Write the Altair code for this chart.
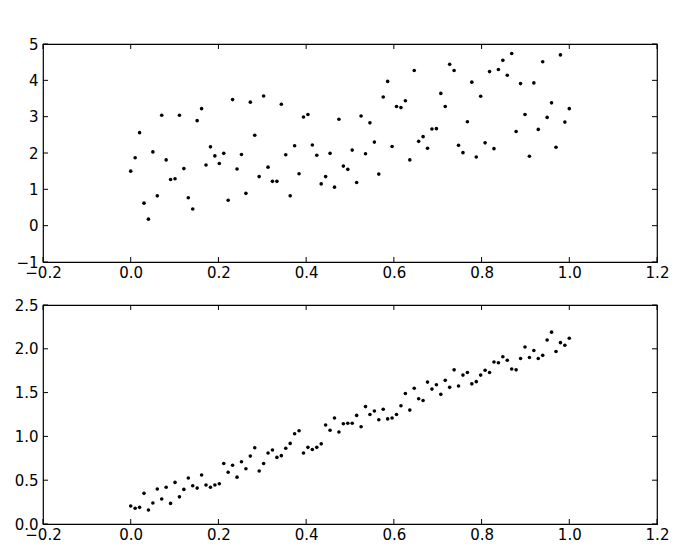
import altair as alt
import pandas as pd
import numpy as np

# x positions: 100 evenly spaced samples on [0, 1]
n_points = 100
x_vals = [i / 99 for i in range(n_points)]

top_y = [1.50, 1.87, 2.56, 0.62, 0.18, 2.03, 0.82, 3.04, 1.81, 1.27,
         1.29, 3.04, 1.57, 0.77, 0.46, 2.89, 3.22, 1.67, 2.17, 1.92,
         1.71, 1.99, 0.70, 3.47, 1.56, 1.96, 0.89, 3.40, 2.49, 1.35,
         3.57, 1.61, 1.22, 1.22, 3.34, 1.95, 0.82, 2.20, 1.43, 2.99,
         3.06, 2.22, 1.94, 1.15, 1.35, 1.99, 1.06, 2.93, 1.64, 1.55,
         2.08, 1.19, 3.02, 1.98, 2.83, 2.30, 1.42, 3.54, 3.97, 2.18,
         3.28, 3.25, 3.44, 1.81, 4.27, 2.32, 2.45, 2.13, 2.66, 2.67,
         3.64, 3.28, 4.44, 4.27, 2.21, 2.01, 2.86, 3.95, 1.89, 3.56,
         2.28, 4.24, 2.12, 4.30, 4.55, 4.14, 4.74, 2.59, 3.91, 3.06,
         1.91, 3.93, 2.65, 4.51, 2.98, 3.38, 2.16, 4.70, 2.85, 3.22]

bottom_y = [0.205, 0.18, 0.19, 0.35, 0.16, 0.24, 0.40, 0.285, 0.42, 0.235,
            0.475, 0.31, 0.395, 0.525, 0.437, 0.41, 0.56, 0.445, 0.42, 0.445,
            0.46, 0.69, 0.59, 0.67, 0.535, 0.71, 0.63, 0.775, 0.87, 0.605,
            0.69, 0.81, 0.845, 0.76, 0.78, 0.865, 0.92, 1.03, 1.065, 0.81,
            0.875, 0.85, 0.875, 0.915, 1.13, 1.07, 1.21, 1.05, 1.145, 1.15,
            1.15, 1.24, 1.11, 1.34, 1.25, 1.29, 1.19, 1.31, 1.20, 1.21,
            1.25, 1.35, 1.49, 1.30, 1.55, 1.43, 1.41, 1.62, 1.54, 1.59,
            1.48, 1.64, 1.56, 1.76, 1.575, 1.70, 1.73, 1.60, 1.625, 1.70,
            1.755, 1.73, 1.85, 1.84, 1.91, 1.87, 1.77, 1.76, 1.89, 2.02,
            1.90, 1.98, 1.89, 1.925, 2.10, 2.19, 1.97, 2.07, 2.04, 2.12]

x_ticks = [-0.2, 0.0, 0.2, 0.4, 0.6, 0.8, 1.0, 1.2]
top_y_ticks = [-1, 0, 1, 2, 3, 4, 5]
bottom_y_ticks = [0.0, 0.5, 1.0, 1.5, 2.0, 2.5]

W, H_TOP, H_BOT = 614, 218, 219
FONT = "DejaVu Sans"
TICK = 5


def panel(yvals, ydom, yticks, yfmt, h):
    df = pd.DataFrame({"x": x_vals, "y": yvals})
    xscale = alt.Scale(domain=[-0.2, 1.2], nice=False, zero=False)
    yscale = alt.Scale(domain=ydom, nice=False, zero=False)
    xaxis = alt.Axis(values=x_ticks, format=".1f", ticks=False, domain=False,
                     grid=False, labelPadding=3, labelFlush=False,
                     labelOverlap=False, title=None, labelFont=FONT,
                     labelFontSize=15, labelColor="black")
    yaxis = alt.Axis(values=yticks, format=yfmt, ticks=False, domain=False,
                     grid=False, labelPadding=5, labelFlush=False,
                     labelOverlap=False, title=None, labelFont=FONT,
                     labelFontSize=15, labelColor="black")
    pts = alt.Chart(df).mark_circle(size=13, color="black", opacity=1).encode(
        x=alt.X("x:Q", scale=xscale, axis=xaxis),
        y=alt.Y("y:Q", scale=yscale, axis=yaxis),
    )
    xt = pd.DataFrame({"t": x_ticks})
    yt = pd.DataFrame({"t": yticks})
    xb = alt.Chart(xt).mark_rule(color="black", strokeWidth=1).encode(
        x=alt.X("t:Q", scale=xscale, axis=xaxis), y=alt.value(h), y2=alt.value(h - TICK))
    xtop = alt.Chart(xt).mark_rule(color="black", strokeWidth=1).encode(
        x=alt.X("t:Q", scale=xscale, axis=xaxis), y=alt.value(0), y2=alt.value(TICK))
    yl = alt.Chart(yt).mark_rule(color="black", strokeWidth=1).encode(
        y=alt.Y("t:Q", scale=yscale, axis=yaxis), x=alt.value(0), x2=alt.value(TICK))
    yr = alt.Chart(yt).mark_rule(color="black", strokeWidth=1).encode(
        y=alt.Y("t:Q", scale=yscale, axis=yaxis), x=alt.value(W - TICK), x2=alt.value(W))
    return alt.layer(pts, xb, xtop, yl, yr).properties(width=W, height=h)


top = panel(top_y, [-1, 5], top_y_ticks, "d", H_TOP)
bottom = panel(bottom_y, [0, 2.5], bottom_y_ticks, ".1f", H_BOT)

chart = alt.vconcat(top, bottom, spacing=43, bounds="flush").properties(
    padding={"left": 5, "top": 28, "right": 5, "bottom": 5},
    background="white",
).configure_view(stroke="black", strokeWidth=1.2)

chart.save("out.html", embed_options={"renderer": "svg", "actions": False})
